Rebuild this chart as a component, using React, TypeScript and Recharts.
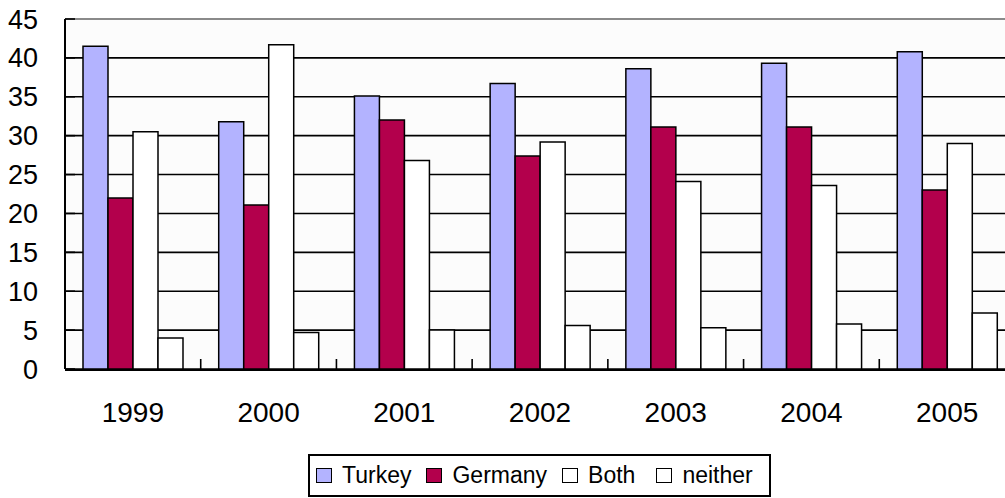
import React from 'react';
import {
  BarChart,
  Bar,
  XAxis,
  YAxis,
  CartesianGrid,
  ReferenceLine,
  Legend,
} from 'recharts';

// values
const years = ['1999', '2000', '2001', '2002', '2003', '2004', '2005'];
const turkey = [41.5, 31.8, 35.1, 36.7, 38.6, 39.3, 40.8];
const germany = [22.0, 21.1, 32.0, 27.4, 31.1, 31.1, 23.0];
const both = [30.5, 41.7, 26.8, 29.2, 24.1, 23.6, 29.0];
const neither = [4.0, 4.7, 5.0, 5.6, 5.3, 5.8, 7.2];
const yTicks = [0, 5, 10, 15, 20, 25, 30, 35, 40, 45];
const boundaryTicks = [1, 2, 3, 4, 5, 6];

const series = [
  { key: 'Turkey', fill: '#b3b3ff' },
  { key: 'Germany', fill: '#b3004c' },
  { key: 'Both', fill: '#ffffff' },
  { key: 'neither', fill: '#ffffff' },
];

const data = years.map((year, i) => ({
  year,
  pos: i + 0.5,
  Turkey: turkey[i],
  Germany: germany[i],
  Both: both[i],
  neither: neither[i],
}));

const FONT = '"Liberation Sans", Arial, sans-serif';

const BoxLegend = () => (
  <div
    style={{
      boxSizing: 'border-box',
      width: 463,
      height: 43,
      border: '2px solid #000',
      background: '#fff',
      display: 'flex',
      alignItems: 'center',
      paddingLeft: 6,
      fontFamily: FONT,
      fontSize: 23,
      color: '#000',
    }}
  >
    {series.map((s, i) => (
      <div
        key={s.key}
        style={{
          display: 'flex',
          alignItems: 'center',
          marginRight: i === 2 ? 21 : 15,
        }}
      >
        <span
          style={{
            boxSizing: 'border-box',
            display: 'inline-block',
            width: 16,
            height: 15,
            background: s.fill,
            border: '1.5px solid #000',
            marginRight: 10,
          }}
        />
        <span>{s.key}</span>
      </div>
    ))}
  </div>
);

const NoLabel = () => <g />;

export default function App() {
  return (
    <div style={{ position: 'absolute', left: 0, top: 0, width: 1005, height: 498, background: '#fff' }}>
      <BarChart
        width={1005}
        height={498}
        data={data}
        margin={{ top: 19, right: -10, left: 0, bottom: 69 }}
        barCategoryGap={18}
        barGap={0}
      >
        <CartesianGrid
          vertical={false}
          stroke="#000"
          strokeWidth={1.6}
          fill="#fcfcfc"
          strokeOpacity={1}
        />
        <ReferenceLine y={45} stroke="#8a8a8a" strokeWidth={2} />
        {/* small marks between the year groups */}
        <XAxis
          dataKey="pos"
          type="number"
          domain={[0, 7]}
          allowDataOverflow
          ticks={boundaryTicks}
          interval={0}
          height={1}
          axisLine={false}
          tick={<NoLabel />}
          tickSize={-10}
          tickLine={{ stroke: '#000', strokeWidth: 1.6 }}
        />
        <XAxis
          xAxisId="years"
          dataKey="year"
          height={59}
          axisLine={{ stroke: '#000', strokeWidth: 2 }}
          tickLine={false}
          tickSize={0}
          tickMargin={32}
          tick={{ fill: '#000', fontSize: 28, fontFamily: FONT }}
        />
        <YAxis
          width={65}
          domain={[0, 45]}
          ticks={yTicks}
          interval={0}
          axisLine={{ stroke: '#000', strokeWidth: 2 }}
          tickLine={{ stroke: '#000', strokeWidth: 1.6 }}
          tickSize={-10}
          tickMargin={37}
          tick={{ fill: '#000', fontSize: 27, fontFamily: FONT }}
        />
        <Legend
          layout="vertical"
          align="center"
          verticalAlign="middle"
          content={<BoxLegend />}
          wrapperStyle={{ left: 308, top: 454, width: 463, height: 43 }}
        />
        {series.map((s) => (
          <Bar
            key={s.key}
            xAxisId="years"
            dataKey={s.key}
            fill={s.fill}
            stroke="#000"
            strokeWidth={1.5}
            isAnimationActive={false}
          />
        ))}
      </BarChart>
    </div>
  );
}
